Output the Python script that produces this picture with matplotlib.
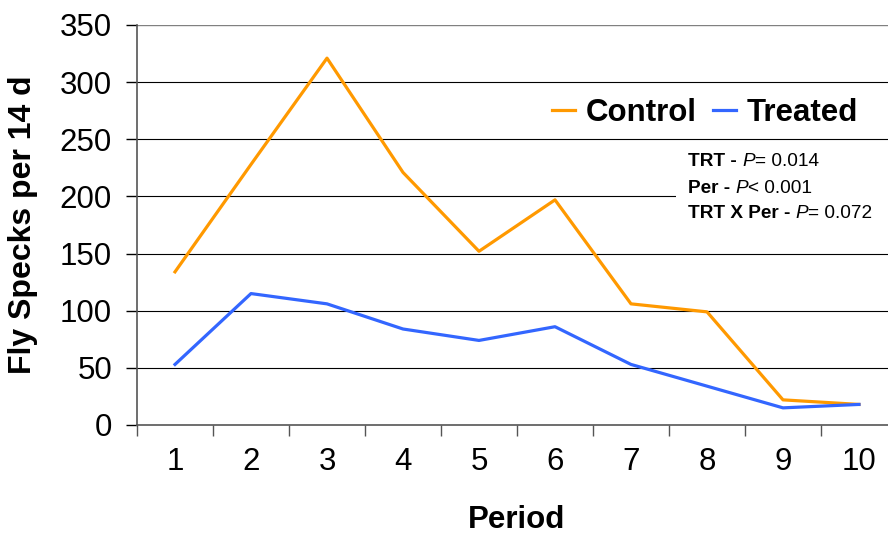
import matplotlib
matplotlib.use("Agg")
import matplotlib.pyplot as plt
import numpy as np

periods = ["1", "2", "3", "4", "5", "6", "7", "8", "9", "10"]
control = [134, 228, 321, 221, 152, 197, 106, 99, 22, 18]
treated = [53, 115, 106, 84, 74, 86, 53, 34, 15, 18]
yticks = [0, 50, 100, 150, 200, 250, 300, 350]
stat_labels = ["TRT - ", "Per - ", "TRT X Per - "]
stat_values = ["= 0.014", "< 0.001", "= 0.072"]

plt.rcParams['font.family'] = ['Liberation Sans', 'DejaVu Sans']

W, H = 888, 538
fig = plt.figure(figsize=(W / 100, H / 100), dpi=100)
ax = fig.add_axes([137 / W, (H - 425) / H, (897 - 137) / W, 400 / H])

x = np.arange(1, len(periods) + 1)
ax.plot(x, control, color='#FF9900', lw=2.3, label='Control', zorder=3)
ax.plot(x, treated, color='#3366FF', lw=2.3, label='Treated', zorder=3)

ax.set_xlim(0.5, len(periods) + 0.5)
ax.set_ylim(0, 350)
ax.set_yticks(yticks)
for v in yticks[1:-1]:
    ax.axhline(v, color='black', lw=0.8, zorder=1)
ax.axhline(350, color='#808080', lw=1.0, zorder=1)

ax.set_xticks(np.arange(0.5, len(periods) + 1, 1.0))
ax.set_xticklabels([])
ax.set_xticks(x, minor=True)
ax.set_xticklabels(periods, minor=True)
ax.tick_params(axis='x', which='major', length=8, width=1, color='#555555', direction='out')
ax.tick_params(axis='x', which='minor', length=0, pad=16, labelsize=22.5)
ax.tick_params(axis='y', length=8, width=1, color='black', direction='out', pad=10, labelsize=22.5)

for s in ['top', 'right']:
    ax.spines[s].set_visible(False)
ax.spines['left'].set_color('#555555')
ax.spines['left'].set_linewidth(1.2)
ax.spines['bottom'].set_color('#555555')
ax.spines['bottom'].set_linewidth(1.2)

ax.set_ylabel('Fly Specks per 14 d', fontsize=23, fontweight='bold', labelpad=16)
ax.set_xlabel('Period', fontsize=22.5, fontweight='bold', labelpad=20)

leg = ax.legend(loc='center', bbox_to_anchor=((705 - 137) / 760, (425 - 113) / 400),
                ncol=2, frameon=False, handlelength=0.75, handletextpad=0.35,
                columnspacing=0.5, prop={'weight': 'bold', 'size': 22.5})

# annotation box
ax.add_patch(plt.Rectangle((0.5 + (676 - 137) / 76, 175), 3.5, 52,
                           facecolor='white', edgecolor='none', zorder=2, clip_on=False))
ys = [160, 187, 212]
fs = 13.7
for lab, val, yp in zip(stat_labels, stat_values, ys):
    t1 = fig.text(688 / W, 1 - (yp + 6) / H, lab, fontsize=fs, fontweight='bold',
                  va='baseline', ha='left', zorder=5)
    t2 = ax.annotate("P", xy=(1, 0), xycoords=t1, fontsize=fs, fontstyle='italic',
                     va='bottom', ha='left', zorder=5)
    ax.annotate(val, xy=(1, 0), xycoords=t2, fontsize=fs,
                va='bottom', ha='left', zorder=5)

fig.savefig('out.png', dpi=100)
